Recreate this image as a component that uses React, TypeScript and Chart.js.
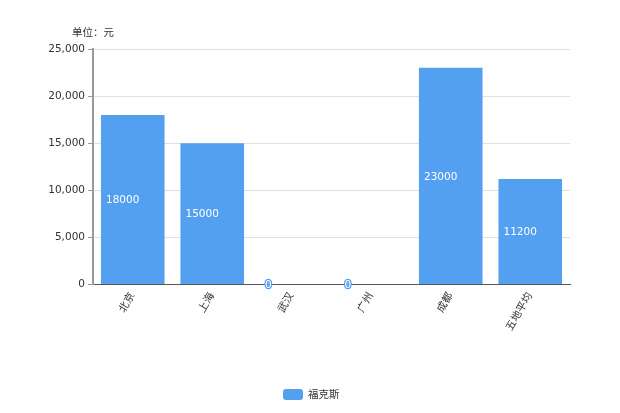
import React, { useEffect, useRef } from "react";
import { Chart, registerables } from "chart.js";

Chart.register(...registerables);

const categories = ["北京", "上海", "武汉", "广州", "成都", "五地平均"];
const seriesName = "福克斯";
const values = [18000, 15000, 0, 0, 23000, 11200];
const yTicks = [0, 5000, 10000, 15000, 20000, 25000];
const unitLabel = "单位：元";

const BAR_COLOR = "#539ff0";
const FONT = '"DejaVu Sans", "Noto Sans CJK SC", sans-serif';
const CJK_FONT = '"Noto Sans CJK SC", sans-serif';
const FS = 10.5;

const extrasPlugin = {
  id: "extras",
  afterDatasetsDraw(chart: any) {
    const { ctx, chartArea } = chart;
    const meta = chart.getDatasetMeta(0);
    ctx.save();
    ctx.font = `${FS}px ${FONT}`;
    ctx.textAlign = "left";
    ctx.textBaseline = "middle";
    meta.data.forEach((el: any, i: number) => {
      const v = chart.data.datasets[0].data[i];
      const x = el.x - el.width / 2 + 5;
      const y = (el.y + el.base) / 2 + 1;
      ctx.lineWidth = 2.5;
      ctx.lineJoin = "round";
      ctx.strokeStyle = BAR_COLOR;
      ctx.strokeText(String(v), x, y);
      ctx.fillStyle = "#ffffff";
      ctx.fillText(String(v), x, y);
    });
    // unit label
    ctx.font = `${FS}px ${CJK_FONT}`;
    ctx.fillStyle = "#333";
    ctx.textAlign = "center";
    ctx.fillText(unitLabel, chartArea.left, 32);
    // legend
    ctx.font = `${FS}px ${FONT}`;
    const lx = 283, ly = 389, lw = 20, lh = 11;
    ctx.fillStyle = BAR_COLOR;
    ctx.beginPath();
    (ctx as any).roundRect(lx, ly, lw, lh, 3);
    ctx.fill();
    ctx.fillStyle = "#333";
    ctx.textAlign = "left";
    ctx.fillText(seriesName, lx + lw + 5, ly + lh / 2 + 0.5);
    ctx.restore();
  },
};

export default function App() {
  const ref = useRef<HTMLCanvasElement>(null);
  useEffect(() => {
    if (!ref.current) return;
    const chart = new Chart(ref.current, {
      type: "bar",
      data: {
        labels: categories,
        datasets: [
          {
            label: seriesName,
            data: values,
            backgroundColor: BAR_COLOR,
            barPercentage: 0.8,
            categoryPercentage: 1,
          },
        ],
      },
      options: {
        responsive: false,
        animation: false,
        layout: { padding: { top: 49, right: 50, bottom: 0, left: 0 } },
        plugins: {
          legend: { display: false },
          tooltip: { enabled: false },
          title: { display: false },
        },
        scales: {
          x: {
            grid: { display: false },
            border: { display: true, color: "#555", width: 1 },
            ticks: {
              maxRotation: 60,
              minRotation: 60,
              padding: -2,
              color: "#333",
              font: { size: FS, family: FONT },
              autoSkip: false,
            },
            afterFit(scale: any) {
              scale.height = 128.5;
            },
          },
          y: {
            min: 0,
            max: 25000,
            afterBuildTicks(scale: any) {
              scale.ticks = yTicks.map((v) => ({ value: v }));
            },
            grid: {
              color: "#e0e0e0",
              tickColor: "#999",
              tickLength: 5,
              drawTicks: true,
            },
            border: { display: true, color: "#999", width: 2 },
            ticks: {
              padding: 3,
              color: "#333",
              font: { size: FS, family: FONT },
              callback: (v: any) => Number(v).toLocaleString("en-US"),
            },
            afterFit(scale: any) {
              scale.width = 93;
            },
          },
        },
      },
      plugins: [extrasPlugin],
    });
    return () => chart.destroy();
  }, []);
  return (
    <div style={{ position: "fixed", left: 0, top: 0, width: 620, height: 413, background: "#fff" }}>
      <canvas ref={ref} width={620} height={413} style={{ display: "block" }} />
    </div>
  );
}
